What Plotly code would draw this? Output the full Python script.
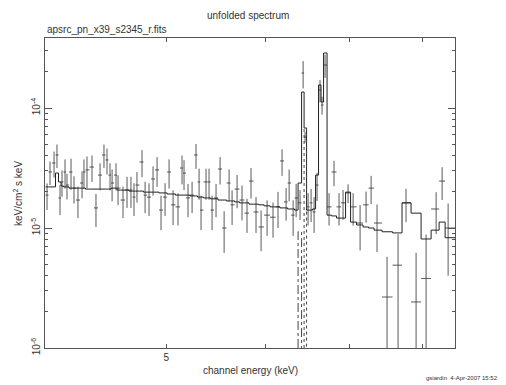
import math
import plotly.graph_objects as go

# ---- data (energies in keV, fluxes in units of 1e-5 keV/cm^2/s/keV) ----
energy = [4.015, 4.037, 4.067, 4.089, 4.112, 4.127, 4.150, 4.165, 4.196, 4.219,
          4.250, 4.282, 4.297, 4.321, 4.361, 4.393, 4.426, 4.458, 4.483, 4.508,
          4.525, 4.558, 4.575, 4.617, 4.651, 4.685, 4.711, 4.737, 4.781, 4.808,
          4.843, 4.879, 4.915, 4.951, 4.988, 5.025, 5.062, 5.108, 5.146, 5.165,
          5.203, 5.242, 5.280, 5.310, 5.329, 5.378, 5.408, 5.438, 5.478, 5.519,
          5.560, 5.611, 5.642, 5.694, 5.746, 5.799, 5.842, 5.896, 5.951, 6.017,
          6.083, 6.139, 6.185, 6.231, 6.266, 6.312, 6.347, 6.393, 6.429, 6.452,
          6.488, 6.524, 6.560, 6.596, 6.632, 6.657, 6.694, 6.743, 6.805, 6.868,
          6.919, 6.983, 7.048, 7.139, 7.218, 7.285, 7.365, 7.502, 7.655, 7.768,
          7.913, 8.060, 8.210, 8.301, 8.393]

flux = [1.88, 2.93, 3.48, 4.06, 1.78, 2.42, 2.93, 2.28, 2.93, 2.15,
        1.71, 2.37, 2.93, 3.05, 3.22, 1.47, 2.76, 4.06, 3.69, 2.76,
        2.37, 2.76, 2.15, 1.71, 2.07, 2.07, 1.81, 2.28, 3.55, 1.88,
        1.81, 2.56, 3.05, 1.41, 1.81, 2.93, 1.56, 1.50, 3.16, 2.87,
        1.78, 1.88, 4.06, 2.42, 1.41, 2.42, 2.42, 1.41, 1.78, 3.10,
        1.00, 2.37, 1.56, 2.11, 1.71, 1.33, 2.46, 1.36, 1.02, 1.28,
        1.23, 1.50, 3.62, 1.65, 2.37, 1.28, 1.78, 1.62, 19.57, 5.73,
        1.50, 1.62, 1.36, 2.28, 14.13, 10.59, 22.82, 1.50, 2.93, 1.50,
        1.62, 1.96, 1.50, 1.10, 1.56, 2.15, 1.10, 0.266, 0.49, 1.62,
        0.242, 0.38, 1.44, 2.46, 1.00]

flux_err = [0.47, 0.65, 0.85, 0.90, 0.50, 0.60, 0.80, 0.55, 0.85, 0.55,
            0.50, 0.60, 0.80, 0.90, 0.80, 0.45, 0.70, 0.90, 0.90, 0.70,
            0.70, 0.70, 0.60, 0.50, 0.60, 0.60, 0.55, 0.65, 0.90, 0.55,
            0.55, 0.70, 0.85, 0.45, 0.55, 0.80, 0.50, 0.45, 0.85, 0.80,
            0.55, 0.55, 0.95, 0.70, 0.45, 0.70, 0.70, 0.45, 0.55, 0.80,
            0.38, 0.70, 0.50, 0.65, 0.55, 0.42, 0.70, 0.45, 0.38, 0.42,
            0.40, 0.50, 0.90, 0.50, 0.70, 0.42, 0.55, 0.45, 5.00, 0.60,
            0.45, 0.50, 0.45, 0.60, 3.00, 1.80, 5.00, 0.45, 0.70, 0.45,
            0.45, 0.35, 0.45, 0.45, 0.45, 0.57, 0.47, 0.31, 0.40, 0.50,
            0.38, 0.50, 0.55, 0.75, 0.60]

model = [2.20, 2.20, 2.20, 2.87, 2.42, 2.24, 2.20, 2.20, 2.15, 2.15,
         2.15, 2.15, 2.15, 2.11, 2.11, 2.11, 2.11, 2.11, 2.11, 2.11,
         2.15, 2.15, 2.07, 2.07, 2.07, 2.03, 2.03, 2.03, 2.03, 1.99,
         1.99, 1.99, 1.99, 1.96, 1.96, 1.92, 1.92, 1.88, 1.88, 1.88,
         1.88, 1.85, 1.85, 1.81, 1.81, 1.78, 1.78, 1.75, 1.75, 1.71,
         1.71, 1.68, 1.68, 1.65, 1.62, 1.62, 1.58, 1.58, 1.56, 1.53,
         1.50, 1.50, 1.47, 1.47, 1.44, 1.44, 1.41, 2.37, 13.59, 6.81,
         1.41, 1.41, 1.44, 2.76, 15.55, 11.22, 28.73, 1.28, 1.26, 1.21,
         1.21, 1.99, 1.12, 1.06, 1.02, 1.00, 0.96, 0.93, 0.91, 1.62,
         1.33, 0.81, 0.96, 1.12, 0.83]

# model line components (bin centre energy, flux)
line_a_energy = [6.393]
line_a_flux = [0.93]
line_b_energy = [6.452]
line_b_flux = [6.81]

upper_edge = 8.5
unit = 1e-5

# ---- bin edges from centres (geometric midpoints) ----
n = len(energy)
edges = [energy[0] * math.sqrt(energy[0] / energy[1])]
for i in range(n - 1):
    edges.append(math.sqrt(energy[i] * energy[i + 1]))
edges.append(upper_edge)

ex_plus = [edges[i + 1] - energy[i] for i in range(n)]
ex_minus = [energy[i] - edges[i] for i in range(n)]

y = [v * unit for v in flux]
ey = [v * unit for v in flux_err]
ym = [v * unit for v in model]

data_col = "#5a5a5a"
model_col = "#222222"

fig = go.Figure()

fig.add_trace(go.Scatter(
    x=energy, y=y, mode="markers",
    marker=dict(size=1, color=data_col),
    error_x=dict(type="data", array=ex_plus, arrayminus=ex_minus, symmetric=False,
                 thickness=1, width=0, color=data_col),
    error_y=dict(type="data", array=ey, thickness=1, width=0, color=data_col),
    showlegend=False, hoverinfo="skip"))

fig.add_trace(go.Scatter(
    x=edges, y=ym + [ym[-1]], mode="lines", line_shape="hv",
    line=dict(color=model_col, width=1), showlegend=False, hoverinfo="skip"))


def comp_trace(e_list, f_list, dash):
    xs, ys = [], []
    floor = 1e-9
    for e, f in zip(e_list, f_list):
        i = min(range(n), key=lambda k: abs(energy[k] - e))
        lo, hi = edges[i], edges[i + 1]
        xs += [lo, lo, hi, hi, None]
        ys += [floor, f * unit, f * unit, floor, None]
    return go.Scatter(x=xs, y=ys, mode="lines",
                      line=dict(color="#444444", width=1, dash=dash),
                      showlegend=False, hoverinfo="skip")


fig.add_trace(comp_trace(line_a_energy, line_a_flux, "dashdot"))
fig.add_trace(comp_trace(line_b_energy, line_b_flux, "dot"))

font_family = "Liberation Sans, Arial, sans-serif"
axis_col = "#555555"

y_minor = []
for dec in (-6, -5, -4):
    for m in range(2, 10):
        v = m * 10 ** dec
        if v < 3.9e-4:
            y_minor.append(v)

fig.update_layout(
    width=506, height=385,
    margin=dict(l=45, r=51, t=38, b=37, autoexpand=False),
    paper_bgcolor="white", plot_bgcolor="white",
    font=dict(family=font_family, size=10, color="#333333"),
    xaxis=dict(
        type="log", range=[math.log10(4.0), math.log10(8.5)], automargin=False,
        showline=True, linecolor=axis_col, linewidth=1, mirror="ticks",
        showgrid=False, zeroline=False,
        ticks="inside", ticklen=4, tickcolor=axis_col,
        tickmode="array", tickvals=[5, 6, 7, 8], ticktext=["5", "", "", ""],
        tickfont=dict(size=10, color="#333333"),
    ),
    yaxis=dict(
        type="log", range=[-6, -3.4167], automargin=False,
        showline=True, linecolor=axis_col, linewidth=1, mirror="ticks",
        showgrid=False, zeroline=False,
        ticks="inside", ticklen=7, tickcolor=axis_col,
        tickmode="array", tickvals=[1e-6, 1e-5, 1e-4],
        ticktext=["10<sup>-6</sup>", "10<sup>-5</sup>", "10<sup>-4</sup>"],
        tickangle=-90, tickfont=dict(size=10, color="#333333"),
        minor=dict(ticks="inside", ticklen=3, tickcolor=axis_col,
                   tickmode="array", tickvals=y_minor, showgrid=False),
    ),
    annotations=[
        dict(text="unfolded spectrum", xref="paper", yref="paper", x=0.495, y=1.071,
             showarrow=False, xanchor="center", yanchor="middle", font=dict(size=10)),
        dict(text="apsrc_pn_x39_s2345_r.fits", xref="paper", yref="paper", x=0.0, y=1.029,
             showarrow=False, xanchor="left", yanchor="middle", font=dict(size=10)),
        dict(text="channel energy (keV)", xref="paper", yref="paper", x=0.5, y=-0.074,
             showarrow=False, xanchor="center", yanchor="middle", font=dict(size=10)),
        dict(text="keV/cm<sup>2</sup> s keV", xref="paper", yref="paper", x=-0.066, y=0.5,
             showarrow=False, xanchor="center", yanchor="middle", textangle=-90,
             font=dict(size=10)),
        dict(text="gsiardin  4-Apr-2007 15:52", xref="paper", yref="paper", x=1.11, y=-0.098,
             showarrow=False, xanchor="right", yanchor="middle", font=dict(size=6)),
    ],
)

fig.write_html("out.html", config={"displayModeBar": False},
               post_script="document.body.style.margin='0px';")
